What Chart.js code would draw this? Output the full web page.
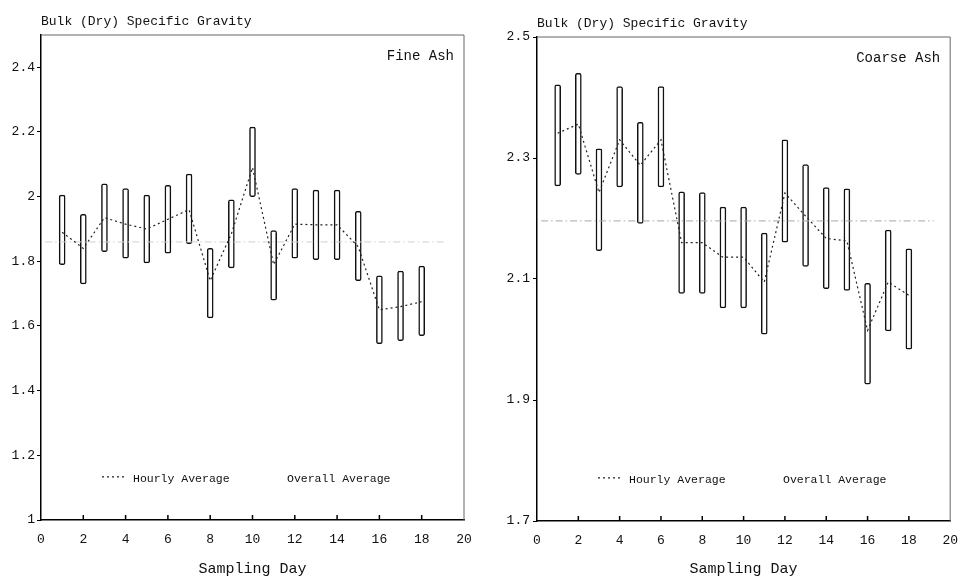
<!DOCTYPE html>
<html>
<head>
<meta charset="utf-8">
<script src="https://cdn.jsdelivr.net/npm/chart.js@4"></script>
<style>
  body { margin: 0; background: #fff; }
  .row { display: flex; width: 970px; height: 579px; }
  canvas { display: block; }
</style>
</head>
<body>
<div class="row">
  <canvas id="fine" width="485" height="579"></canvas>
  <canvas id="coarse" width="485" height="579"></canvas>
</div>
<script>
var days = [1, 2, 3, 4, 5, 6, 7, 8, 9, 10, 11, 12, 13, 14, 15, 16, 17, 18];
var xTicks = [0, 2, 4, 6, 8, 10, 12, 14, 16, 18, 20];

// fine ash
var fineLow    = [1.79, 1.73, 1.83, 1.81, 1.795, 1.825, 1.855, 1.625, 1.78, 2.00, 1.68, 1.81, 1.805, 1.805, 1.74, 1.545, 1.555, 1.57];
var fineHigh   = [2.005, 1.945, 2.04, 2.025, 2.005, 2.035, 2.07, 1.84, 1.99, 2.215, 1.895, 2.025, 2.02, 2.02, 1.955, 1.755, 1.77, 1.785];
var fineHourly = [1.89, 1.84, 1.935, 1.915, 1.90, 1.93, 1.96, 1.74, 1.885, 2.09, 1.79, 1.915, 1.913, 1.913, 1.845, 1.65, 1.66, 1.675];
var fineOverall = 1.86;
var fineYTicks = [1, 1.2, 1.4, 1.6, 1.8, 2, 2.2, 2.4];

// coarse ash
var coarseLow    = [2.254, 2.273, 2.147, 2.252, 2.192, 2.252, 2.076, 2.076, 2.052, 2.052, 2.009, 2.161, 2.121, 2.084, 2.081, 1.926, 2.014, 1.984];
var coarseHigh   = [2.421, 2.440, 2.315, 2.418, 2.359, 2.418, 2.244, 2.243, 2.219, 2.219, 2.176, 2.330, 2.289, 2.251, 2.249, 2.093, 2.181, 2.150];
var coarseHourly = [2.341, 2.356, 2.243, 2.330, 2.288, 2.330, 2.160, 2.160, 2.136, 2.136, 2.095, 2.242, 2.204, 2.167, 2.163, 2.015, 2.095, 2.073];
var coarseOverall = 2.196;
var coarseYTicks = [1.7, 1.9, 2.1, 2.3, 2.5];

var overallSpan = [0.2, 19.2];

Chart.defaults.font.family = "'Liberation Mono', monospace";
Chart.defaults.font.size = 13;
Chart.defaults.color = '#111';

function makePanel(id, cfg) {
    var ctx = document.getElementById(id).getContext('2d');

    var decor = {
        id: 'decor',
        afterDraw: function (chart) {
            var c = chart.ctx, a = chart.chartArea;
            var xs = chart.scales.x;
            c.save();
            // top and right frame
            c.strokeStyle = '#666';
            c.lineWidth = 1;
            c.beginPath();
            c.moveTo(a.left, a.top);
            c.lineTo(a.right, a.top);
            c.lineTo(a.right, a.bottom);
            c.stroke();
            // inward ticks on the bottom axis
            c.strokeStyle = '#000';
            c.lineWidth = 1.5;
            xTicks.slice(1, -1).forEach(function (v) {
                var px = xs.getPixelForValue(v);
                c.beginPath();
                c.moveTo(px, a.bottom);
                c.lineTo(px, a.bottom - 5);
                c.stroke();
            });
            // axis title on top
            c.fillStyle = '#111';
            c.font = "13px 'Liberation Mono', monospace";
            c.textBaseline = 'middle';
            c.textAlign = 'left';
            c.fillText('Bulk (Dry) Specific Gravity', a.left, a.top - 13);
            // panel label
            c.font = "14px 'Liberation Mono', monospace";
            c.textAlign = 'right';
            c.fillText(cfg.label, a.right - 10, a.top + 21);
            // legend
            var ly = a.top + (a.bottom - a.top) * 0.915;
            c.font = "11.5px 'Liberation Mono', monospace";
            c.textAlign = 'left';
            c.strokeStyle = '#222';
            c.lineWidth = 1.2;
            c.setLineDash([2, 3]);
            c.beginPath();
            c.moveTo(a.left + 61, ly - 2);
            c.lineTo(a.left + 84, ly - 2);
            c.stroke();
            c.setLineDash([]);
            c.fillText('Hourly Average', a.left + 92, ly);
            c.fillText('Overall Average', a.left + 246, ly);
            c.restore();
        }
    };

    return new Chart(ctx, {
        type: 'bar',
        data: {
            datasets: [{
                label: 'Range',
                data: days.map(function (d, i) { return { x: d, y: [cfg.low[i], cfg.high[i]] }; }),
                backgroundColor: '#fff',
                borderColor: '#111',
                borderWidth: 1.5,
                borderSkipped: false,
                borderRadius: 2,
                barThickness: 6,
                order: 3
            },
            {
                type: 'line',
                label: 'Hourly Average',
                data: days.map(function (d, i) { return { x: d, y: cfg.hourly[i] }; }),
                borderColor: '#222',
                borderWidth: 1.2,
                borderDash: [2, 3],
                pointRadius: 0,
                fill: false,
                tension: 0,
                order: 1
            },
            {
                type: 'line',
                label: 'Overall Average',
                data: overallSpan.map(function (x) { return { x: x, y: cfg.overall }; }),
                borderColor: cfg.overallColor,
                borderWidth: 1,
                borderDash: [7, 3, 1.5, 3],
                pointRadius: 0,
                fill: false,
                order: 2
            }]
        },
        options: {
            responsive: false,
            animation: false,
            devicePixelRatio: 1,
            layout: { padding: cfg.padding },
            plugins: {
                legend: { display: false },
                title: { display: false },
                tooltip: { enabled: false }
            },
            scales: {
                x: {
                    type: 'linear',
                    min: 0,
                    max: 20,
                    offset: false,
                    afterBuildTicks: function (s) { s.ticks = xTicks.map(function (v) { return { value: v }; }); },
                    afterFit: function (s) { s.height = cfg.xHeight; },
                    grid: { drawOnChartArea: false, drawTicks: false },
                    border: { color: '#000', width: 1.5 },
                    ticks: { padding: 12, maxRotation: 0, autoSkip: false },
                    title: {
                        display: true,
                        text: 'Sampling Day',
                        font: { size: 15 },
                        padding: { top: 0, bottom: 1 }
                    }
                },
                y: {
                    min: cfg.yMin,
                    max: cfg.yMax,
                    afterBuildTicks: function (s) { s.ticks = cfg.yTicks.map(function (v) { return { value: v }; }); },
                    afterFit: function (s) { s.width = cfg.yWidth; },
                    grid: { drawOnChartArea: false, drawTicks: true, tickLength: 4, color: '#000' },
                    border: { color: '#000', width: 1.5 },
                    ticks: {
                        padding: cfg.yPad,
                        callback: function (v) { return String(+v.toFixed(1)); }
                    }
                }
            }
        },
        plugins: [decor]
    });
}

makePanel('fine', {
    label: 'Fine Ash',
    low: fineLow, high: fineHigh, hourly: fineHourly, overall: fineOverall,
    overallColor: '#d0d0d0',
    yMin: 1, yMax: 2.5, yTicks: fineYTicks,
    padding: { left: 0, right: 21, top: 35, bottom: 0 },
    yWidth: 41, yPad: 2, xHeight: 59
});

makePanel('coarse', {
    label: 'Coarse Ash',
    low: coarseLow, high: coarseHigh, hourly: coarseHourly, overall: coarseOverall,
    overallColor: '#a8a8a8',
    yMin: 1.7, yMax: 2.5, yTicks: coarseYTicks,
    padding: { left: 0, right: 11, top: 37, bottom: 0 },
    yWidth: 52, yPad: 3, xHeight: 58
});
</script>
</body>
</html>
